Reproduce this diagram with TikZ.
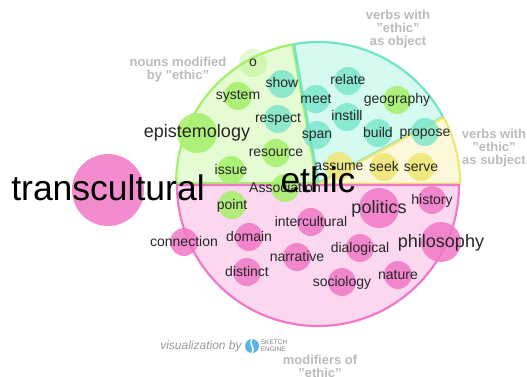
\documentclass[tikz,border=0pt]{standalone}
\usetikzlibrary{positioning}
\usepackage{fontspec}
\setmainfont{Liberation Sans}
\definecolor{pinkline}{RGB}{240,120,198}
\definecolor{pinkfill}{RGB}{251,216,240}
\definecolor{greenline}{RGB}{165,240,105}
\definecolor{greenfill}{RGB}{228,251,211}
\definecolor{tealline}{RGB}{112,228,200}
\definecolor{tealfill}{RGB}{213,251,240}
\definecolor{yellowline}{RGB}{240,230,115}
\definecolor{yellowfill}{RGB}{253,248,218}
\definecolor{captiongray}{RGB}{187,187,187}
\definecolor{logoblue}{RGB}{90,180,225}
\tikzset{
  sector/.style={line width=2.2pt, line join=round},
  bubble/.style={circle, inner sep=0pt, minimum size=28pt, fill opacity=0.85},
  word/.style={inner sep=0pt, font=\fontsize{14}{14}\selectfont, text=black!85, text height=10.5pt, text depth=2.5pt},
  bigword/.style={word, font=\fontsize{18}{18}\selectfont, text height=13.5pt, text depth=3.5pt},
  hugeword/.style={word, font=\fontsize{35.5}{36}\selectfont, text=black, text height=27pt, text depth=7pt},
  caption/.style={align=center, text=captiongray, font=\fontsize{13}{13}\selectfont\bfseries}
}

\begin{document}
\begin{tikzpicture}[x=1pt, y=-1pt]

\useasboundingbox (0,0) rectangle (527,377);

\pgfmathsetmacro{\hubX}{318}
\pgfmathsetmacro{\hubY}{184}
\pgfmathsetmacro{\hubR}{141}

\begin{scope}[shift={(\hubX,\hubY)}]
\draw[sector, draw=greenline, fill=greenfill, shift={(-0.9,-0.7)}] (0,0) -- (-180:\hubR) arc[start angle=-180, end angle=-100, radius=\hubR] -- cycle;
\draw[sector, draw=tealline, fill=tealfill, shift={(0.5,-1)}] (0,0) -- (-100:\hubR) arc[start angle=-100, end angle=-28, radius=\hubR] -- cycle;
\draw[sector, draw=yellowline, fill=yellowfill, shift={(1.1,-0.4)}] (0,0) -- (-28:\hubR) arc[start angle=-28, end angle=0, radius=\hubR] -- cycle;
\draw[sector, draw=pinkline, fill=pinkfill, shift={(0,1)}] (0,0) -- (180:\hubR) arc[start angle=180, end angle=0, radius=\hubR] -- cycle;
\end{scope}

\foreach \name/\x/\y in {system/238/96, resource/276/153, issue/231/170, Association/285/188, point/232/205, geography/397/100}
\node[bubble, fill=greenline] (\name-dot) at (\x,\y) {};
\node[bubble, fill=greenline, fill opacity=0.3] (o-dot) at (253,63) {};
\node[bubble, fill=greenline, minimum size=40pt] (epistemology-dot) at (197,133) {};

\foreach \name/\x/\y in {show/282/84, respect/278/119, meet/316/99, relate/348/81, instill/347/117, span/317/135, build/378/133, propose/425/132}
\node[bubble, fill=tealline, fill opacity=0.75] (\name-dot) at (\x,\y) {};

\foreach \name/\x/\y in {assume/339/166, seek/384/167, serve/421/167}
\node[bubble, fill=yellowline] (\name-dot) at (\x,\y) {};

\foreach \name/\x/\y in {connection/184/242, domain/249/237, distinct/247/272, intercultural/311/222, narrative/297/257, dialogical/360/248, sociology/342/282, nature/398/275, history/432/200}
\node[bubble, fill=pinkline] (\name-dot) at (\x,\y) {};
\node[bubble, fill=pinkline, minimum size=40pt] (politics-dot) at (379,208) {};
\node[bubble, fill=pinkline, minimum size=40pt] (philosophy-dot) at (441,242) {};
\node[bubble, fill=pinkline, minimum size=72pt] (transcultural-dot) at (108,190) {};

\foreach \name in {o, show, system, respect, resource, issue, point, geography, meet, relate, instill, span, build, propose, assume, seek, serve, connection, domain, distinct, intercultural, narrative, dialogical, sociology, nature, history, Association}
\node[word] (\name) at (\name-dot) {\name};

\foreach \name in {epistemology, politics, philosophy}
\node[bigword] (\name) at (\name-dot) {\name};

\node[hugeword] (transcultural) at (108,190) {transcultural};
\node[hugeword] (ethic) at (318,182) {ethic};

\node[caption] (nouns) at (178,70) {nouns modified\\by "ethic"};
\node[caption] (objects) at (398,29) {verbs with\\"ethic"\\as object};
\node[caption] (subjects) at (494,148) {verbs with\\"ethic"\\as subject};
\node[caption] (modifiers) at (320,366) {modifiers of\\"ethic"};

\node[inner sep=0pt, text=black!40, font=\fontsize{12}{12}\selectfont\itshape] (credit) at (201,346) {visualization by};
\node[circle, inner sep=0pt, minimum size=14pt, fill=logoblue] (logo) at (252,346) {};
\draw[white, line width=1.4pt] (logo.north) .. controls (248,344) and (256,348) .. (logo.south);
\node[inner sep=0pt, align=left, text=black!50, font=\fontsize{6.5}{7}\selectfont, right=1.5pt of logo] (engine) {SKETCH\\ENGINE};

\end{tikzpicture}
\end{document}
